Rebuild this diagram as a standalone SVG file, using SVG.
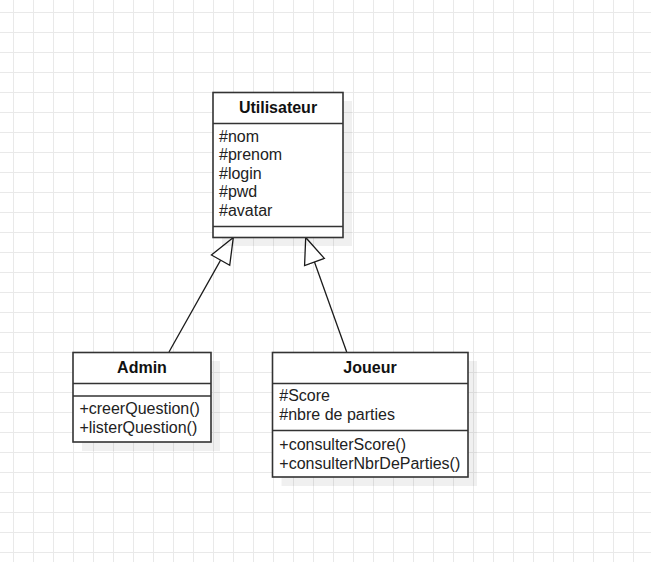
<svg xmlns="http://www.w3.org/2000/svg" width="651" height="562" viewBox="0 0 651 562">
  <defs>
    <pattern id="grid" x="13" y="12" width="20" height="20" patternUnits="userSpaceOnUse">
      <path d="M0.5 0 V20 M0 0.5 H20" fill="none" stroke="#e9e9e9" stroke-width="1"/>
    </pattern>
    <marker id="inherit" markerUnits="userSpaceOnUse" markerWidth="32" markerHeight="26" refX="27" refY="12" orient="auto">
      <path d="M1,1.5 L27,12 L1,22.5 Z" fill="#ffffff" stroke="#1a1a1a" stroke-width="1.3" stroke-linejoin="miter"/>
    </marker>
  </defs>
  <style>
    .box { fill: #ffffff; stroke: #333333; stroke-width: 1.6; }
    .shadow { fill: #000000; fill-opacity: 0.06; }
    .div { stroke: #333333; stroke-width: 1.4; }
    .title { font-family: "Liberation Sans", Arial, sans-serif; font-size: 16px; font-weight: bold; fill: #111111; text-anchor: middle; }
    .item { font-family: "Liberation Sans", Arial, sans-serif; font-size: 16px; fill: #222222; }
    .conn { fill: none; stroke: #1a1a1a; stroke-width: 1.3; }
  </style>
  <rect x="0" y="0" width="651" height="562" fill="#ffffff"/>
  <rect x="0" y="0" width="651" height="562" fill="url(#grid)"/>

  <g id="connectors">
    <line class="conn" x1="169" y1="352" x2="233.3" y2="237.5" marker-end="url(#inherit)"/>
    <line class="conn" x1="346.7" y1="352" x2="305.7" y2="237.5" marker-end="url(#inherit)"/>
  </g>

  <g id="utilisateur">
    <rect class="shadow" x="222" y="101" width="130" height="145"/>
    <rect class="box" x="213" y="92.5" width="130" height="145"/>
    <line class="div" x1="213" y1="123.5" x2="343" y2="123.5"/>
    <line class="div" x1="213" y1="226.5" x2="343" y2="226.5"/>
    <text class="title" x="278" y="113.3">Utilisateur</text>
    <text class="item" x="219" y="141.5">#nom</text>
    <text class="item" x="219" y="160.1">#prenom</text>
    <text class="item" x="219" y="178.7">#login</text>
    <text class="item" x="219" y="197.3">#pwd</text>
    <text class="item" x="219" y="215.9">#avatar</text>
  </g>

  <g id="admin">
    <rect class="shadow" x="82" y="361" width="138" height="90"/>
    <rect class="box" x="73" y="352.5" width="138" height="89.5"/>
    <line class="div" x1="73" y1="383.5" x2="211" y2="383.5"/>
    <line class="div" x1="73" y1="396" x2="211" y2="396"/>
    <text class="title" x="142" y="372.5">Admin</text>
    <text class="item" x="79.4" y="414">+creerQuestion()</text>
    <text class="item" x="79.4" y="433">+listerQuestion()</text>
  </g>

  <g id="joueur">
    <rect class="shadow" x="281.5" y="361" width="195.5" height="125"/>
    <rect class="box" x="272.5" y="352.5" width="195.5" height="124.5"/>
    <line class="div" x1="272.5" y1="383.5" x2="468" y2="383.5"/>
    <line class="div" x1="272.5" y1="430.5" x2="468" y2="430.5"/>
    <text class="title" x="370" y="372.5">Joueur</text>
    <text class="item" x="279.3" y="401">#Score</text>
    <text class="item" x="279.3" y="420">#nbre de parties</text>
    <text class="item" x="279.3" y="449.5">+consulterScore()</text>
    <text class="item" x="279.3" y="468.5">+consulterNbrDeParties()</text>
  </g>
</svg>
